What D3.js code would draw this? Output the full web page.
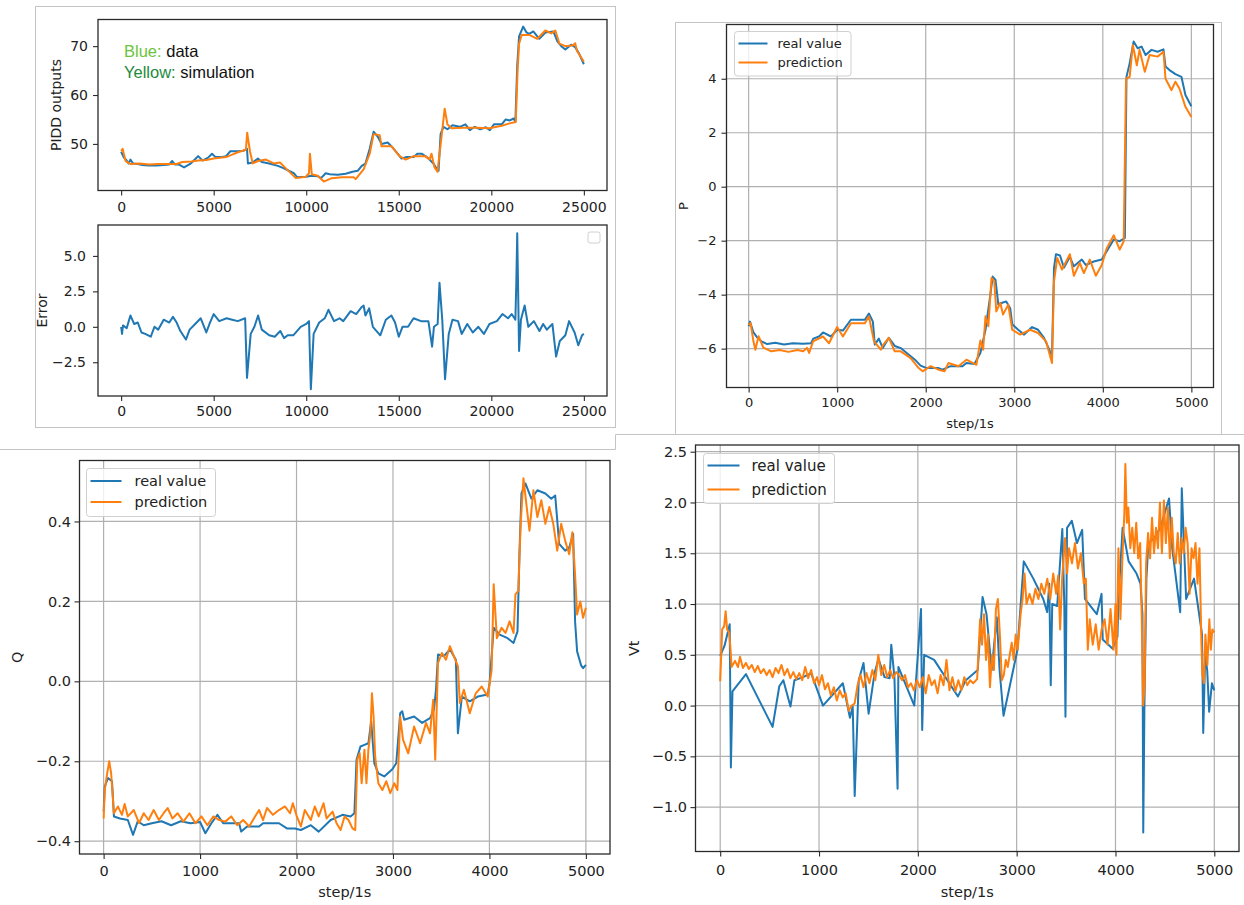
<!DOCTYPE html>
<html>
<head>
<meta charset="utf-8">
<script src="https://cdn.jsdelivr.net/npm/d3@7"></script>
<style>
  body { margin: 0; background: #fff; }
  svg { display: block; font-family: "DejaVu Sans", sans-serif; }
</style>
</head>
<body>
<svg id="chart" width="1244" height="905"></svg>
<script>
// ---- data: [step, value] ----

// PIDD outputs (top left, upper)
var pidData = [[0,48.4],[150,47.2],[280,46.7],[400,46],[500,46.8],[650,46],[900,45.9],[1150,45.7],[1500,45.6],[1900,45.6],[2300,45.7],[2600,45.8],[2760,46.5],[2900,45.8],[3100,45.8],[3400,45.2],[3730,45.9],[3900,46.5],[4160,47.5],[4400,46.6],[4700,47.2],[4910,48],[5100,47.3],[5400,47.3],[5670,47.5],[5900,48.5],[6310,48.5],[6600,48.6],[6800,49],[6850,46],[7100,46.2],[7390,47],[7600,46.3],[8000,46],[8470,45.5],[8800,45],[9330,44],[9500,43.2],[9980,43.3],[10300,43.5],[10620,43.4],[10800,43],[11050,44],[11270,43.8],[11700,43.7],[12130,43.9],[12500,44.3],[12780,44.5],[13000,45.5],[13200,46],[13430,49],[13640,52.5],[13860,51.5],[14070,50],[14400,50.3],[14610,49.5],[14940,48],[15150,47],[15400,47.3],[15800,47.3],[16000,48],[16230,48],[16550,47.2],[16870,46],[17030,45],[17150,44.5],[17260,52],[17410,53.5],[17630,53],[17900,53.8],[18300,53.5],[18600,54],[18840,52.8],[19100,53.5],[19400,53],[19700,53.4],[19920,52.8],[20140,54],[20560,54],[20780,55],[21000,54.8],[21210,55.2],[21300,54.5],[21400,66],[21500,72],[21720,74],[21900,72.8],[22050,72.5],[22270,73],[22590,71.5],[22920,72.8],[23350,73],[23570,71],[23780,70],[24000,69.3],[24310,70.3],[24530,69.8],[24740,68.5],[25000,66.3]];
var pidSim = [[0,48.5],[80,49],[240,46.5],[500,45.9],[1000,46],[1500,45.8],[2000,45.9],[2500,45.9],[3000,45.9],[3300,46.3],[3800,46.4],[4160,46.6],[4600,46.7],[5000,47],[5670,47.3],[6000,47.8],[6310,48.3],[6740,48.8],[6810,52.3],[6960,48.5],[7110,46],[7390,46.5],[7820,46.8],[8250,46],[8580,46.2],[8900,45],[9440,43],[9980,43.3],[10150,44],[10200,48],[10300,43.8],[10620,43.5],[10950,42.3],[11380,43],[11920,43.2],[12560,43.2],[12670,42.8],[13100,44.8],[13430,48],[13640,52],[13970,51.8],[14070,49.5],[14610,49.5],[15040,47.5],[15370,46.8],[15800,47.5],[16440,47.5],[16660,46.8],[16770,48],[16920,45.3],[17090,44.3],[17310,51.5],[17480,57.2],[17630,54],[17850,53.2],[18500,53.3],[19200,53.3],[19900,53.2],[20560,53.7],[20990,54.2],[21320,54.5],[21420,65],[21500,70.5],[21640,72.3],[22050,72.3],[22480,71.5],[22920,73.2],[23240,72.6],[23460,73.2],[23680,70.5],[24000,70],[24420,70.2],[24530,70.6],[24630,69],[25000,66.8]];

// Error (top left, lower)
var errData = [[0,0],[50,-0.5],[100,0.1],[300,-0.1],[500,0.8],[700,0.2],[900,0.3],[1100,-0.4],[1300,-0.5],[1600,-0.7],[1800,0],[2000,-0.2],[2300,0.5],[2600,0.3],[2800,0.7],[3000,0.3],[3200,-0.3],[3500,-0.9],[3700,-0.2],[4000,0.2],[4300,0.6],[4600,-0.4],[4800,0.3],[5000,0.9],[5300,0.4],[5700,0.6],[6000,0.5],[6300,0.4],[6700,0.6],[6800,-3.6],[7000,-0.5],[7200,0],[7400,0.8],[7600,-0.2],[8000,-0.6],[8300,-0.7],[8600,-0.3],[8800,-0.8],[9000,-0.6],[9300,-0.6],[9700,0],[10000,0.2],[10150,0.4],[10250,-4.4],[10400,-0.5],[10700,0.3],[11000,0.6],[11200,1.2],[11500,0.4],[11800,0.6],[12000,0.4],[12400,1.1],[12700,0.9],[13000,1.4],[13100,1.5],[13200,0.8],[13400,1.3],[13600,0],[14000,-0.6],[14300,0.5],[14600,0.8],[14800,0.3],[15000,-0.7],[15200,0],[15500,0],[15800,0.6],[16200,0.4],[16600,0.4],[16800,-1.4],[16900,0],[17100,0.2],[17200,3.1],[17350,0.5],[17500,-3.7],[17700,-0.5],[17900,0.5],[18200,0.4],[18400,-0.5],[18700,0.2],[19000,-0.4],[19300,0],[19600,-0.5],[19900,0.2],[20300,0.4],[20600,0.9],[20900,0.6],[21100,0.9],[21300,0.5],[21350,3.1],[21400,6.6],[21500,-1.7],[21600,0.5],[21800,1.5],[22000,0],[22300,0.4],[22600,-0.3],[22800,0.2],[23000,-0.2],[23300,0.2],[23500,-2.1],[23700,-1],[24000,-0.6],[24200,0.4],[24500,-0.4],[24700,-1.3],[24900,-0.6],[25000,-0.5]];

// P (top right)
var pReal = [[0,-5.17],[15,-5.0],[54,-5.4],[100,-5.6],[144,-5.73],[210,-5.83],[300,-5.78],[400,-5.85],[500,-5.8],[615,-5.82],[705,-5.8],[730,-5.63],[795,-5.55],[840,-5.4],[930,-5.55],[1000,-5.3],[1065,-5.33],[1155,-4.93],[1313,-4.93],[1358,-4.7],[1403,-5.0],[1425,-5.85],[1470,-5.63],[1515,-5.98],[1583,-5.6],[1650,-5.9],[1718,-5.98],[1785,-6.16],[1875,-6.4],[1942,-6.63],[2010,-6.72],[2145,-6.72],[2190,-6.78],[2280,-6.65],[2415,-6.65],[2460,-6.53],[2550,-6.57],[2617,-6.16],[2675,-5.3],[2730,-4.0],[2756,-3.33],[2788,-3.45],[2820,-4.37],[2864,-4.3],[2909,-4.25],[2954,-4.5],[2977,-5.1],[3044,-5.3],[3111,-5.48],[3201,-5.2],[3269,-5.3],[3336,-5.6],[3404,-6.1],[3426,-6.25],[3449,-3.0],[3471,-2.5],[3516,-2.55],[3561,-3.0],[3628,-2.6],[3673,-2.95],[3763,-2.7],[3808,-2.9],[3898,-2.77],[3988,-2.7],[4056,-2.33],[4124,-1.96],[4191,-2.02],[4249,-1.9],[4267,4.07],[4303,4.57],[4348,5.38],[4393,5.13],[4438,5.19],[4483,4.88],[4550,5.07],[4618,5.0],[4685,5.09],[4708,4.45],[4753,4.32],[4820,4.17],[4888,4.07],[4933,3.4],[5000,2.98]];
var pPred = [[0,-5.13],[22,-5.05],[54,-5.73],[76,-6.04],[112,-5.54],[166,-5.96],[256,-6.1],[350,-6.05],[450,-6.12],[550,-6.05],[616,-6.1],[660,-5.97],[683,-6.16],[728,-5.73],[840,-5.55],[908,-5.8],[1000,-5.2],[1065,-5.55],[1155,-5.06],[1313,-5.06],[1358,-4.8],[1416,-5.73],[1493,-6.04],[1515,-5.88],[1583,-5.6],[1650,-6.1],[1718,-6.1],[1830,-6.35],[1920,-6.72],[1965,-6.84],[2055,-6.65],[2145,-6.78],[2212,-6.84],[2257,-6.53],[2370,-6.65],[2460,-6.41],[2572,-6.6],[2617,-5.7],[2648,-6.04],[2675,-4.8],[2707,-5.17],[2743,-3.38],[2774,-3.5],[2797,-4.62],[2842,-4.3],[2873,-4.74],[2932,-4.37],[2977,-5.3],[3066,-5.48],[3179,-5.3],[3269,-5.42],[3359,-5.73],[3426,-6.53],[3449,-3.5],[3485,-2.64],[3539,-3.07],[3628,-2.5],[3673,-3.3],[3740,-2.82],[3786,-3.2],[3853,-2.7],[3921,-3.3],[3988,-2.9],[4042,-2.3],[4124,-1.8],[4191,-2.33],[4236,-2.02],[4262,4.0],[4303,4.07],[4339,5.25],[4384,4.5],[4415,5.07],[4474,4.26],[4528,4.88],[4618,4.82],[4685,5.0],[4708,4.0],[4775,3.58],[4820,3.89],[4865,3.64],[4933,2.96],[5000,2.58]];

// Q (bottom left)
var qReal = [[0,-0.326],[12,-0.263],[45,-0.242],[87,-0.25],[107,-0.338],[169,-0.343],[251,-0.347],[305,-0.384],[354,-0.35],[416,-0.36],[500,-0.355],[600,-0.35],[700,-0.36],[800,-0.35],[900,-0.355],[1000,-0.352],[1055,-0.38],[1117,-0.355],[1180,-0.334],[1240,-0.355],[1405,-0.355],[1426,-0.376],[1488,-0.363],[1612,-0.363],[1653,-0.355],[1818,-0.355],[1900,-0.368],[1983,-0.368],[2045,-0.372],[2148,-0.36],[2230,-0.376],[2354,-0.347],[2477,-0.334],[2560,-0.338],[2600,-0.33],[2622,-0.196],[2663,-0.163],[2704,-0.159],[2745,-0.155],[2774,-0.1],[2807,-0.205],[2848,-0.23],[2910,-0.238],[2993,-0.22],[3034,-0.205],[3075,-0.08],[3096,-0.075],[3116,-0.096],[3219,-0.088],[3302,-0.104],[3384,-0.092],[3425,-0.071],[3446,-0.021],[3467,0.067],[3528,0.063],[3590,0.08],[3652,0.054],[3673,-0.13],[3714,-0.038],[3796,-0.05],[3879,-0.038],[3982,-0.033],[4002,-0.004],[4044,0.134],[4106,0.117],[4188,0.108],[4250,0.096],[4291,0.125],[4312,0.327],[4332,0.47],[4373,0.495],[4435,0.457],[4497,0.478],[4580,0.47],[4641,0.457],[4682,0.465],[4723,0.344],[4785,0.327],[4827,0.335],[4868,0.369],[4888,0.15],[4909,0.075],[4950,0.04],[4971,0.033],[5000,0.041]];
var qPred = [[0,-0.343],[12,-0.272],[37,-0.23],[58,-0.2],[78,-0.23],[107,-0.33],[148,-0.313],[190,-0.334],[218,-0.307],[251,-0.338],[313,-0.322],[367,-0.355],[416,-0.33],[466,-0.347],[519,-0.322],[573,-0.347],[622,-0.33],[664,-0.317],[713,-0.343],[767,-0.33],[828,-0.351],[890,-0.33],[952,-0.355],[1014,-0.338],[1076,-0.36],[1138,-0.338],[1200,-0.347],[1261,-0.351],[1323,-0.338],[1385,-0.36],[1447,-0.347],[1509,-0.363],[1570,-0.338],[1612,-0.322],[1653,-0.347],[1694,-0.317],[1756,-0.334],[1818,-0.322],[1880,-0.313],[1933,-0.33],[1962,-0.305],[2003,-0.338],[2045,-0.363],[2086,-0.322],[2148,-0.347],[2189,-0.313],[2230,-0.338],[2280,-0.305],[2312,-0.343],[2374,-0.326],[2415,-0.355],[2457,-0.372],[2498,-0.338],[2539,-0.347],[2580,-0.368],[2609,-0.372],[2630,-0.196],[2655,-0.18],[2675,-0.255],[2704,-0.171],[2725,-0.255],[2745,-0.171],[2766,-0.13],[2782,-0.03],[2799,-0.088],[2815,-0.188],[2848,-0.255],[2890,-0.272],[2931,-0.25],[2972,-0.28],[3013,-0.255],[3046,-0.272],[3075,-0.088],[3104,-0.146],[3158,-0.18],[3219,-0.113],[3281,-0.155],[3343,-0.104],[3384,-0.13],[3417,-0.046],[3438,-0.196],[3467,0.046],[3508,0.071],[3549,0.054],[3590,0.088],[3631,0.063],[3673,0.038],[3693,-0.054],[3735,-0.021],[3796,-0.08],[3858,-0.03],[3920,-0.013],[3982,-0.038],[4023,0.029],[4044,0.243],[4077,0.108],[4126,0.134],[4167,0.121],[4209,0.15],[4250,0.121],[4270,0.218],[4299,0.226],[4324,0.394],[4353,0.508],[4382,0.445],[4415,0.377],[4456,0.478],[4497,0.411],[4538,0.453],[4580,0.394],[4621,0.436],[4662,0.394],[4703,0.327],[4744,0.394],[4785,0.352],[4827,0.318],[4860,0.373],[4888,0.268],[4909,0.167],[4942,0.2],[4971,0.159],[5000,0.184]];

// Vt (bottom right)
var vtReal = [[0,0.49],[44,0.59],[96,0.8],[108,-0.61],[124,0.14],[261,0.31],[530,-0.21],[598,0.19],[639,0.25],[711,-0.01],[751,0.25],[839,0.28],[920,0.32],[1040,0.0],[1241,0.22],[1313,-0.12],[1341,-0.01],[1361,-0.89],[1402,0.25],[1450,0.42],[1502,-0.08],[1562,0.32],[1602,0.46],[1663,0.28],[1715,0.27],[1731,0.6],[1763,0.28],[1795,-0.82],[1803,0.38],[1964,0.0],[2032,0.95],[2044,-0.24],[2064,0.5],[2165,0.45],[2406,0.09],[2486,0.25],[2606,0.35],[2655,1.07],[2695,0.9],[2747,0.35],[2799,0.87],[2827,0.35],[2867,-0.1],[3008,0.55],[3072,1.42],[3169,1.25],[3269,1.05],[3309,0.92],[3330,1.2],[3345,0.2],[3360,1.0],[3410,0.98],[3462,1.74],[3482,1.0],[3494,-0.11],[3510,1.75],[3558,1.82],[3610,1.6],[3663,1.73],[3691,1.05],[3771,0.95],[3811,0.9],[3859,1.1],[3871,0.65],[3972,0.56],[4020,0.68],[4030,1.05],[4072,1.75],[4133,1.42],[4213,1.3],[4253,1.2],[4273,0.9],[4281,-1.25],[4293,0.0],[4313,1.25],[4333,1.6],[4394,1.65],[4454,1.75],[4542,2.04],[4574,1.55],[4655,0.92],[4671,2.14],[4715,1.05],[4795,1.25],[4876,0.7],[4888,-0.27],[4908,0.5],[4928,0.35],[4948,-0.06],[4976,0.22],[5000,0.15]];
var vtPred = [[0,0.24],[20,0.75],[40,0.78],[55,0.93],[70,0.75],[90,0.72],[105,0.55],[115,0.38],[150,0.44],[180,0.38],[200,0.48],[230,0.37],[260,0.42],[290,0.36],[320,0.4],[350,0.33],[380,0.39],[410,0.32],[440,0.36],[470,0.3],[500,0.35],[530,0.28],[560,0.37],[590,0.32],[620,0.4],[650,0.3],[680,0.36],[710,0.27],[740,0.33],[770,0.26],[800,0.32],[830,0.25],[860,0.38],[890,0.27],[920,0.35],[950,0.22],[980,0.28],[1000,0.2],[1030,0.3],[1060,0.16],[1090,0.22],[1120,0.1],[1150,0.18],[1180,0.05],[1210,0.15],[1240,0.08],[1270,0.12],[1300,-0.05],[1330,0.0],[1360,0.02],[1390,0.2],[1420,0.3],[1450,0.18],[1480,0.32],[1510,0.22],[1540,0.35],[1570,0.25],[1600,0.5],[1630,0.3],[1660,0.4],[1690,0.28],[1720,0.35],[1750,0.27],[1780,0.33],[1810,0.3],[1840,0.25],[1870,0.3],[1900,0.18],[1930,0.22],[1960,0.15],[1990,0.25],[2020,0.18],[2050,0.28],[2080,0.12],[2110,0.3],[2140,0.2],[2170,0.25],[2200,0.12],[2230,0.3],[2260,0.2],[2290,0.45],[2320,0.15],[2350,0.28],[2380,0.14],[2410,0.25],[2440,0.15],[2470,0.28],[2500,0.2],[2530,0.25],[2560,0.22],[2600,0.26],[2615,0.55],[2630,0.85],[2650,0.6],[2670,0.9],[2690,0.45],[2710,0.7],[2730,0.18],[2750,0.5],[2770,0.35],[2790,0.95],[2810,1.05],[2830,0.7],[2850,0.25],[2870,0.3],[2890,0.45],[2910,0.38],[2930,0.5],[2950,0.62],[2970,0.45],[2990,0.7],[3010,0.55],[3040,0.9],[3060,1.05],[3080,1.3],[3100,1.0],[3130,1.1],[3160,1.0],[3190,1.15],[3220,1.05],[3250,1.2],[3280,1.1],[3310,1.25],[3340,1.05],[3370,1.3],[3400,1.1],[3420,1.28],[3440,0.75],[3460,1.25],[3490,1.65],[3510,1.3],[3530,1.55],[3560,1.4],[3590,1.6],[3620,1.35],[3650,1.5],[3680,1.2],[3700,1.25],[3720,0.55],[3740,0.85],[3770,0.6],[3800,0.8],[3830,0.55],[3860,0.75],[3890,0.85],[3920,0.6],[3950,0.95],[3980,0.55],[4000,1.0],[4010,0.5],[4030,1.55],[4050,0.85],[4070,1.45],[4090,1.9],[4100,2.38],[4115,1.8],[4130,1.95],[4150,1.55],[4170,1.75],[4190,1.5],[4210,1.8],[4230,1.45],[4250,1.6],[4265,0.9],[4280,0.0],[4295,0.2],[4310,1.4],[4330,1.7],[4350,1.45],[4370,1.85],[4390,1.5],[4410,1.75],[4430,1.55],[4450,2.0],[4470,1.5],[4490,2.02],[4510,1.6],[4530,1.95],[4550,1.45],[4570,1.85],[4590,1.5],[4610,1.4],[4630,1.7],[4650,1.4],[4670,1.65],[4690,1.5],[4710,1.75],[4730,1.6],[4750,1.1],[4770,1.55],[4790,1.45],[4810,1.6],[4830,1.2],[4850,1.55],[4870,0.6],[4880,0.3],[4895,0.22],[4910,0.7],[4930,0.4],[4950,0.85],[4965,0.55],[4980,0.75],[5000,0.72]];

// tick values
var pidXTicks = [0, 5000, 10000, 15000, 20000, 25000];
var pidYTicks = [50, 60, 70];
var errYTicks = [-2.5, 0, 2.5, 5];
var stepTicks = [0, 1000, 2000, 3000, 4000, 5000];
var pYTicks = [-6, -4, -2, 0, 2, 4];
var qYTicks = [-0.4, -0.2, 0, 0.2, 0.4];
var vtYTicks = [-1, -0.5, 0, 0.5, 1, 1.5, 2, 2.5];
var legendNames = ["real value", "prediction"];

var BLUE = "#1f77b4", ORANGE = "#ff7f0e";
var svg = d3.select("#chart");

// light frames around the pasted pictures
var frames = svg.append("g").attr("fill", "none").attr("stroke", "#c4c4c4").attr("stroke-width", 1);
frames.append("rect").attr("x", 35.5).attr("y", 6.5).attr("width", 580).attr("height", 421);
frames.append("rect").attr("x", 675.5).attr("y", 22.5).attr("width", 546).attr("height", 412);
frames.append("path").attr("d", "M615.5,434.5H675.5M1221.5,434.5H1244M615.5,434.5V449.5H0");

function drawPanel(p) {
  var x = d3.scaleLinear().domain(p.xDomain).range([p.box[0], p.box[2]]);
  var y = d3.scaleLinear().domain(p.yDomain).range([p.box[3], p.box[1]]);
  var g = svg.append("g");

  if (p.grid) {
    g.append("g").selectAll("line").data(p.xTicks).enter().append("line")
      .attr("x1", function(d) { return x(d); }).attr("x2", function(d) { return x(d); })
      .attr("y1", p.box[1]).attr("y2", p.box[3])
      .attr("stroke", "#b0b0b0").attr("stroke-width", 1.2);
    g.append("g").selectAll("line").data(p.yTicks).enter().append("line")
      .attr("y1", function(d) { return y(d); }).attr("y2", function(d) { return y(d); })
      .attr("x1", p.box[0]).attr("x2", p.box[2])
      .attr("stroke", "#b0b0b0").attr("stroke-width", 1.2);
  }

  var line = d3.line()
    .x(function(d) { return x(d[0]); })
    .y(function(d) { return y(d[1]); });

  p.series.forEach(function(s) {
    g.append("path").datum(s.data)
      .attr("d", line)
      .attr("fill", "none")
      .attr("stroke", s.color)
      .attr("stroke-width", 2)
      .attr("stroke-linejoin", "round");
  });

  g.append("rect")
    .attr("x", p.box[0]).attr("y", p.box[1])
    .attr("width", p.box[2] - p.box[0]).attr("height", p.box[3] - p.box[1])
    .attr("fill", "none").attr("stroke", "#2a2a2a").attr("stroke-width", 1.3);

  var xAxis = g.append("g")
    .attr("transform", "translate(0," + p.box[3] + ")")
    .call(d3.axisBottom(x).tickValues(p.xTicks).tickSize(5).tickPadding(p.xPad).tickFormat(d3.format("d")));
  var yAxis = g.append("g")
    .attr("transform", "translate(" + p.box[0] + ",0)")
    .call(d3.axisLeft(y).tickValues(p.yTicks).tickSize(5).tickPadding(p.yPad).tickFormat(d3.format(p.yFormat)));

  [xAxis, yAxis].forEach(function(a) {
    a.select(".domain").remove();
    a.selectAll(".tick line").attr("stroke", "#2a2a2a").attr("stroke-width", 1.1);
    a.selectAll(".tick text")
      .attr("fill", "#222")
      .style("font-family", "DejaVu Sans")
      .style("font-size", p.font + "px");
  });

  g.append("text")
    .attr("transform", "translate(" + p.yLabelX + "," + ((p.box[1] + p.box[3]) / 2) + ") rotate(-90)")
    .attr("text-anchor", "middle").attr("dominant-baseline", "central")
    .attr("fill", "#222").style("font-size", p.font + "px")
    .text(p.yLabel);

  if (p.xLabel) {
    g.append("text")
      .attr("x", (p.box[0] + p.box[2]) / 2).attr("y", p.xLabelY)
      .attr("text-anchor", "middle").attr("dominant-baseline", "central")
      .attr("fill", "#222").style("font-size", p.font + "px")
      .text(p.xLabel);
  }

  if (p.legend) {
    var L = p.legend;
    var lg = g.append("g");
    lg.append("rect")
      .attr("x", L.x).attr("y", L.y).attr("width", L.w).attr("height", L.h)
      .attr("rx", 3).attr("fill", "#fff").attr("fill-opacity", 0.8)
      .attr("stroke", "#d0d0d0").attr("stroke-width", 1);
    legendNames.forEach(function(name, i) {
      var yy = L.y + L.row0 + i * L.step;
      lg.append("line")
        .attr("x1", L.x + 4).attr("x2", L.x + 4 + L.lineW)
        .attr("y1", yy).attr("y2", yy)
        .attr("stroke", p.series[i].color).attr("stroke-width", 2);
      lg.append("text")
        .attr("x", L.x + L.textX).attr("y", yy)
        .attr("dominant-baseline", "central")
        .attr("fill", "#222").style("font-size", L.font + "px")
        .text(name);
    });
  }
  return g;
}

// top left, upper: PIDD outputs
var gA = drawPanel({
  box: [98, 19.5, 607, 190.5], xDomain: [-1250, 26250], yDomain: [40.47, 75.45],
  xTicks: pidXTicks, yTicks: pidYTicks, yFormat: "d", font: 14, xPad: 7, yPad: 5,
  yLabel: "PIDD outputs", yLabelX: 56,
  series: [{ data: pidData, color: BLUE }, { data: pidSim, color: ORANGE }]
});
var note = gA.append("g").style("font-family", "'Liberation Sans', Arial, sans-serif").style("font-size", "16.5px");
var t1 = note.append("text").attr("x", 124).attr("y", 57);
t1.append("tspan").attr("fill", "#6cc43c").text("Blue: ");
t1.append("tspan").attr("fill", "#111").text("data");
var t2 = note.append("text").attr("x", 124).attr("y", 78);
t2.append("tspan").attr("fill", "#1d8a3e").text("Yellow: ");
t2.append("tspan").attr("fill", "#111").text("simulation");

// top left, lower: Error
var gB = drawPanel({
  box: [98, 225, 607, 396], xDomain: [-1250, 26250], yDomain: [-4.88, 7.18],
  xTicks: pidXTicks, yTicks: errYTicks, yFormat: ".1f", font: 14, xPad: 5.5, yPad: 7,
  yLabel: "Error", yLabelX: 42,
  series: [{ data: errData, color: BLUE }]
});
// empty legend box
gB.append("rect").attr("x", 588).attr("y", 232).attr("width", 12).attr("height", 11).attr("rx", 2)
  .attr("fill", "#fff").attr("stroke", "#d0d0d0");

// top right: P
drawPanel({
  box: [726.5, 24.5, 1213.5, 387.5], xDomain: [-250, 5250], yDomain: [-7.44, 6.01],
  xTicks: stepTicks, yTicks: pYTicks, yFormat: "d", font: 13, xPad: 5.5, yPad: 5,
  grid: true, yLabel: "P", yLabelX: 683, xLabel: "step/1s", xLabelY: 423,
  series: [{ data: pReal, color: BLUE }, { data: pPred, color: ORANGE }],
  legend: { x: 734.5, y: 31.5, w: 116.5, h: 44.5, row0: 12, step: 19, lineW: 29, textX: 43, font: 13 }
});

// bottom left: Q
drawPanel({
  box: [79.5, 460.5, 610, 854], xDomain: [-250, 5250], yDomain: [-0.432, 0.5525],
  xTicks: stepTicks, yTicks: qYTicks, yFormat: ".1f", font: 14.5, xPad: 6.5, yPad: 3.5,
  grid: true, yLabel: "Q", yLabelX: 17, xLabel: "step/1s", xLabelY: 892,
  series: [{ data: qReal, color: BLUE }, { data: qPred, color: ORANGE }],
  legend: { x: 86.5, y: 468.5, w: 129, h: 48, row0: 12.5, step: 21, lineW: 31, textX: 48, font: 14.5 }
});

// bottom right: Vt
drawPanel({
  box: [695.5, 445, 1239, 851.5], xDomain: [-250, 5250], yDomain: [-1.437, 2.566],
  xTicks: stepTicks, yTicks: vtYTicks, yFormat: ".1f", font: 14.5, xPad: 8, yPad: 3.5,
  grid: true, yLabel: "Vt", yLabelX: 634, xLabel: "step/1s", xLabelY: 892,
  series: [{ data: vtReal, color: BLUE }, { data: vtPred, color: ORANGE }],
  legend: { x: 703.5, y: 453.5, w: 131, h: 50, row0: 12, step: 24, lineW: 32, textX: 48, font: 15 }
});
</script>
</body>
</html>
